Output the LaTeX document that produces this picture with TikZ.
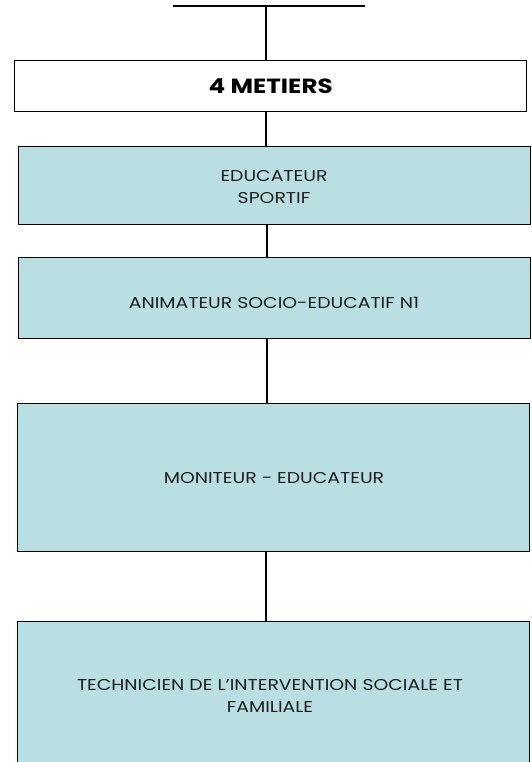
\documentclass[tikz,border=0pt]{standalone}
\usepackage{fontspec}
\setmainfont{Poppins}[FakeStretch=1.2]
\definecolor{boxfill}{RGB}{186,223,226}
\definecolor{txt}{RGB}{30,30,30}
\begin{document}
\begin{tikzpicture}[x=1pt,y=-1pt,
  line/.style={draw=black,line width=1.4pt},
  metier/.style={line,fill=boxfill,minimum width=512pt,anchor=north west,inner sep=0pt},
  lab/.style={text=txt,font=\fontsize{15.7}{21.5}\selectfont,align=center,inner sep=0pt},
  head/.style={line,fill=white,minimum width=512pt,minimum height=51pt,anchor=north west,inner sep=0pt,font=\bfseries\fontsize{20.5}{24}\selectfont}]
\useasboundingbox (0,0) rectangle (531,762);
\clip (0,0) rectangle (531,762);
\coordinate (tl) at (173,6);
\coordinate (tr) at (365,6);
\coordinate (tc) at (266,6);
\node[head] (h) at (14,60) {4 METIERS};
\node[metier,minimum height=78pt] (b1) at (18,146) {};
\node[metier,minimum height=81pt] (b2) at (18,257) {};
\node[metier,minimum height=148pt] (b3) at (17,403) {};
\node[metier,minimum height=152pt] (b4) at (17,621) {};
\node[lab] (t1) at (274,187) {EDUCATEUR\\SPORTIF};
\node[lab] (t2) at (274,303) {ANIMATEUR SOCIO-EDUCATIF N1};
\node[lab] (t3) at (274,478) {MONITEUR - EDUCATEUR};
\node[lab] (t4) at (270,696) {TECHNICIEN DE L’INTERVENTION SOCIALE ET\\FAMILIALE};
\draw[line] (tl) -- (tr);
\draw[line] (tc) -- (tc |- h.north);
\draw[line] (h.south -| tc) -- (b1.north -| tc);
\draw[line] ([xshift=1pt]b1.south -| tc) -- ([xshift=1pt]b2.north -| tc);
\draw[line] ([xshift=1pt]b2.south -| tc) -- ([xshift=1pt]b3.north -| tc);
\draw[line] (b3.south -| tc) -- (b4.north -| tc);
\end{tikzpicture}
\end{document}
